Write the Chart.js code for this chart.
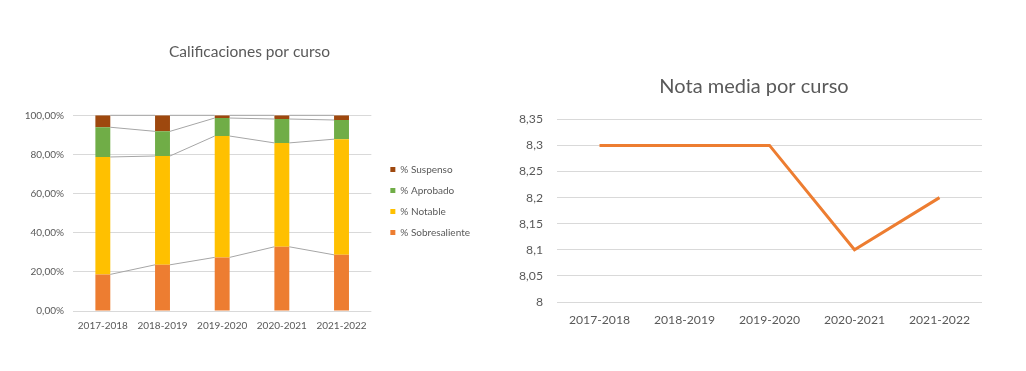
<!doctype html>
<html lang="es">
<head>
<meta charset="utf-8">
<title>Calificaciones por curso</title>
<style>
    html, body {
        margin: 0;
        padding: 0;
        background: #fff;
        overflow: hidden;
    }
    #gradesChart { position: absolute; left: 0; top: 0; }
    #avgChart { position: absolute; left: 500px; top: 0; }
</style>
</head>
<body>
<canvas id="gradesChart" width="499" height="402"></canvas>
<canvas id="avgChart" width="508" height="371"></canvas>
<script src="https://cdn.jsdelivr.net/npm/chart.js"></script>
<script>
    // data
    const courses = ['2017-2018', '2018-2019', '2019-2020', '2020-2021', '2021-2022'];
    const sobresaliente = [18.7, 23.6, 27.4, 32.8, 28.7];
    const notable = [60.0, 55.6, 62.0, 53.1, 59.1];
    const aprobado = [15.2, 12.6, 9.2, 12.2, 9.8];
    const suspenso = [6.1, 8.2, 1.4, 1.9, 2.4];
    const notaMedia = [8.3, 8.3, 8.3, 8.1, 8.2];

    const FONT = 'Lato';
    const TEXT = '#595959';
    const GRID = '#d9d9d9';

    const comma = (v, digits) => v.toFixed(digits).replace('.', ',');

    // invisible axis used only to reserve some space on the right
    const spacer = (w, weight) => ({
        display: false,
        position: 'right',
        weight: weight,
        afterFit(s) { s.width = w; }
    });

    // excel-like series lines between stacked bars
    const seriesLines = {
        id: 'seriesLines',
        afterDatasetsDraw(chart) {
            const {ctx} = chart;
            ctx.save();
            ctx.strokeStyle = '#a6a6a6';
            ctx.lineWidth = 1;
            chart.data.datasets.forEach((ds, d) => {
                const bars = chart.getDatasetMeta(d).data;
                for (let i = 0; i < bars.length - 1; i++) {
                    const a = bars[i], b = bars[i + 1];
                    ctx.beginPath();
                    ctx.moveTo(a.x + a.width / 2, a.y);
                    ctx.lineTo(b.x - b.width / 2, b.y);
                    ctx.stroke();
                }
            });
            ctx.restore();
        }
    };

    new Chart(document.getElementById('gradesChart'), {
        type: 'bar',
        data: {
            labels: courses,
            datasets: [
                {label: '% Sobresaliente', data: sobresaliente, backgroundColor: '#ED7D31'},
                {label: '% Notable', data: notable, backgroundColor: '#FFC000'},
                {label: '% Aprobado', data: aprobado, backgroundColor: '#70AD47'},
                {label: '% Suspenso', data: suspenso, backgroundColor: '#9E480E'}
            ]
        },
        options: {
            responsive: false,
            animation: false,
            barPercentage: 0.25,
            categoryPercentage: 1,
            plugins: {
                title: {
                    display: true,
                    text: 'Calificaciones por curso',
                    color: TEXT,
                    font: {family: FONT, size: 15.5, weight: 'normal'},
                    padding: {top: 42.7, bottom: 54}
                },
                legend: {
                    position: 'right',
                    reverse: true,
                    labels: {
                        boxWidth: 5,
                        boxHeight: 5,
                        padding: 11,
                        color: TEXT,
                        font: {family: FONT, size: 10}
                    }
                },
                tooltip: {enabled: false}
            },
            scales: {
                x: {
                    stacked: true,
                    grid: {display: false, drawTicks: false},
                    border: {display: false},
                    ticks: {color: TEXT, font: {family: FONT, size: 10}, padding: 9, maxRotation: 0},
                    afterFit(s) { s.height = 91; }
                },
                y: {
                    stacked: true,
                    min: 0,
                    max: 100,
                    ticks: {
                        stepSize: 20,
                        color: TEXT,
                        font: {family: FONT, size: 10},
                        padding: 9,
                        callback: v => comma(v, 2) + '%'
                    },
                    grid: {color: GRID, drawTicks: false},
                    border: {display: false},
                    afterFit(s) { s.width = 73; }
                },
                gap: spacer(8, 0),
                gapOuter: spacer(19, 2000)
            }
        },
        plugins: [seriesLines]
    });

    new Chart(document.getElementById('avgChart'), {
        type: 'line',
        data: {
            labels: courses,
            datasets: [{
                label: 'Nota media',
                data: notaMedia,
                borderColor: '#ED7D31',
                backgroundColor: '#ED7D31',
                borderWidth: 3,
                pointRadius: 0,
                tension: 0
            }]
        },
        options: {
            responsive: false,
            animation: false,
            plugins: {
                title: {
                    display: true,
                    text: 'Nota media por curso',
                    color: TEXT,
                    font: {family: FONT, size: 20, weight: 'normal'},
                    padding: {top: 75, bottom: 20.3}
                },
                legend: {display: false},
                tooltip: {enabled: false}
            },
            scales: {
                x: {
                    offset: true,
                    grid: {display: false, drawTicks: false},
                    border: {display: false},
                    ticks: {color: TEXT, font: {family: FONT, size: 12.2}, padding: 10.5, maxRotation: 0},
                    afterFit(s) { s.height = 69; }
                },
                y: {
                    min: 8,
                    max: 8.35,
                    ticks: {
                        stepSize: 0.05,
                        color: TEXT,
                        font: {family: FONT, size: 12.2},
                        padding: 14,
                        callback: v => String(Number(v.toFixed(2))).replace('.', ',')
                    },
                    grid: {color: GRID, drawTicks: false},
                    border: {display: false},
                    afterFit(s) { s.width = 57; }
                },
                gap: spacer(26, 0)
            }
        }
    });
</script>
</body>
</html>
